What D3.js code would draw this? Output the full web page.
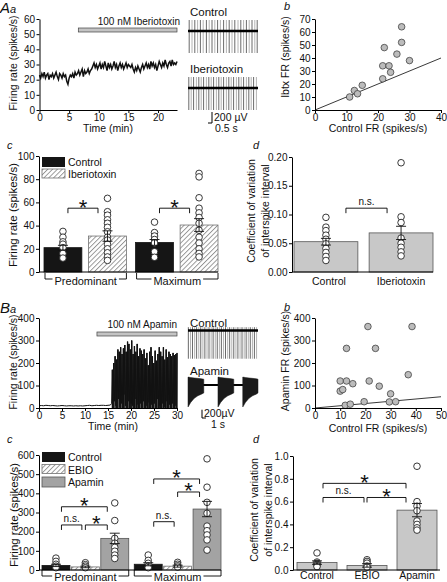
<!DOCTYPE html>
<html><head><meta charset="utf-8">
<script src="https://cdn.jsdelivr.net/npm/d3@7"></script>
<style>
body{margin:0;background:#fff}
svg{display:block;font-family:"Liberation Sans",Arial,Helvetica,sans-serif}
</style></head><body>
<svg id="fig" width="447" height="582"></svg>
<script>
// ================= DATA =================
// --- A a : firing rate time course (Iberiotoxin) ---
const ibtxRateStep = 0.2; // min per sample
const ibtxRate = [23,21,24,22,25,21,23,24,20,23,22,
  24,21,23,25,22,20,24,23,21,24,22,23,
  19,17,21,
  23,22,24,21,25,23,
  24,26,23,25,27,22,26,24,25,27,24,26,
  27,29,31,28,30,27,
  29,31,27,30,28,32,29,26,31,28,30,27,29,32,28,30,26,29,31,28,30,27,29,31,28,30,29,28,30,
  27,25,28,26,29,27,25,28,30,27,
  29,31,28,30,27,32,29,31,28,30,26,29,32,30,28,31,29,33,30,28,31,32,29,33,30,31,30,32];
const ibtxDrugWindow = [6.55, 23.2];
const ibtxTimeTicks = [0,5,10,15,20];
const ibtxRateTicks = [0,10,20,30,40,50,60];
// spike times (s) of the example voltage traces
const ctrlSpikesA = [0.03,0.1,0.17,0.24,0.31,0.38,0.46,0.53,0.6,0.67,0.74,0.81,0.89,0.96,1.03,1.1,1.17,1.25,1.32,1.39,1.46,1.53,1.6,1.67,1.73];
const ibtxSpikesA = [0.02,0.08,0.14,0.21,0.27,0.33,0.39,0.46,0.52,0.58,0.64,0.71,0.77,0.83,0.89,0.96,1.02,1.08,1.14,1.21,1.27,1.33,1.39,1.46,1.52,1.58,1.64,1.71];
const spikeUpA = 200, spikeDownA = -400; // µV

// --- A b : scatter ---
const abControlFR = [11,12.5,13.5,15,21.5,21.5,22,23.5,24,26,27.5,27.5,30];
const abIbtxFR    = [10,15,12.5,19,24,34,48,34,29,43,52,64,38];
const abXTicks = [0,10,20,30,40];
const abYTicks = [0,10,20,30,40,50,60,70];

// --- A c : firing rate bars ---
const acGroups = ['Predominant','Maximum'];
const acConds = ['Control','Iberiotoxin'];
const acMeans = [[21,31],[25.5,40.5]];
const acSEM = [[2,4.5],[2.5,5.5]];
const acPoints = [
  [[35,30,26,24,21,16,12],[63.5,52,49,45,42,38.5,34.7,30,27.6,24,20,16.6,13,10]],
  [[43,34,31,28,25,17.5,12.7],[85,82,64,55,51,47,42,36,30,25,20,16,13]]];
const acTicks = [0,20,40,60,80,100];

// --- A d : CV bars ---
const adConds = ['Control','Iberiotoxin'];
const adMeans = [0.0527,0.068];
const adSEM = [0.0058,0.0115];
const adPoints = [[0.095,0.078,0.072,0.064,0.057,0.049,0.041,0.034,0.027,0.020],
                  [0.19,0.096,0.086,0.059,0.05,0.043,0.035,0.028]];
const adTicks = [0,0.05,0.10,0.15,0.20];

// --- B a : firing rate time course (Apamin) ---
const apaBaseStep = 0.5;
const apaBase = [10,11,10,12,11,10,11,10,9,10,11,10,9,10,10,9,10,9,10,9,10,11,12,10,11,12,11,12,12,11,12,13];
const apaBurstStart = 15.8, apaBurstStep = 0.15;
const apaBurst = [20,170,0,200,30,230,10,215,0,260,40,250,
  5,270,20,240,0,265,60,280,10,250,0,
  295,30,285,0,260,20,300,10,240,0,275,
  40,250,0,285,15,230,0,265,20,255,0,240,
  30,260,0,220,10,245,0,190,25,250,0,270,
  15,230,0,200,20,255,0,210,40,240,0,270,
  10,250,0,230,20,270,5,215,0,260,30,225,
  0,250,15,240,0,230,20,245,0,235,10,240,0,245];
const apaDrugWindow = [12.6, 30];
const apaTimeTicks = [0,5,10,15,20,25,30];
const apaRateTicks = [0,100,200,300,400];
const ctrlSpikesB = [0.02,0.14,0.25,0.37,0.48,0.6,0.71,0.83,0.94,1.06,1.17,1.29,1.4,1.52,1.63,1.75,1.86,1.98,2.09,2.21,2.32,2.44,2.55,2.67,2.78,2.9,3.01,3.13,3.24,3.36,3.47,3.59,3.7,3.82];
const spikeUpB = 80, spikeDownB = -680;
const burstOnsets = [0,1.67,3.05];
const burstEnvT = [0,0.02,0.15,0.35,0.55,0.75,0.88];
const burstEnvTop = [190,190,180,170,160,150,140];
const burstEnvBottom = [-530,-520,-420,-320,-260,-220,-190];

// --- B b : scatter ---
const bbControlFR = [10,10,11,12.5,12.5,12,14,15,19.5,21,21.5,24,25.5,29.5,30,32,37,38.5];
const bbApaminFR  = [75,120,82,120,265,12,17,108,28,362,120,265,97,27,63,28,148,362];
const bbXTicks = [0,10,20,30,40,50];
const bbYTicks = [0,100,200,300,400];

// --- B c : firing rate bars ---
const bcGroups = ['Predominant','Maximum'];
const bcConds = ['Control','EBIO','Apamin'];
const bcMeans = [[24,16,165],[30,20,318]];
const bcSEM = [[6,4,27],[8,5,40]];
const bcPoints = [
  [[62,45,30,20,12],[38,28,20,12],[350,258,165,140,118,98,78,60]],
  [[78,50,35,20,12],[40,30,22,15],[580,432,353,296,229,205,183,157,104]]];
const bcTicks = [0,100,200,300,400,500,600];

// --- B d : CV bars ---
const bdConds = ['Control','EBIO','Apamin'];
const bdMeans = [0.065,0.04,0.525];
const bdSEM = [0.015,0.015,0.058];
const bdPoints = [[0.15,0.07,0.06,0.05,0.04,0.03],[0.09,0.075,0.06,0.035,0.025],[0.91,0.6,0.56,0.52,0.43,0.4,0.37,0.35]];
const bdTicks = [0,0.2,0.4,0.6,0.8,1.0];

// ================= DRAWING =================
const fig = d3.select('#fig');
const FONT = '"Liberation Sans", Arial, Helvetica, sans-serif';
fig.append('rect').attr('width',447).attr('height',582).attr('fill','#fff');

const defs = fig.append('defs');
const pat = defs.append('pattern').attr('id','hatch').attr('width',3.4).attr('height',3.4)
  .attr('patternUnits','userSpaceOnUse').attr('patternTransform','rotate(45)');
pat.append('rect').attr('width',3.4).attr('height',3.4).attr('fill','#fff');
pat.append('line').attr('x1',0.5).attr('y1',0).attr('x2',0.5).attr('y2',3.4).attr('stroke','#808080').attr('stroke-width',0.8);

function txt(x,y,s,o={}){
  const t = fig.append('text').attr('x',x).attr('y',y).text(s)
    .attr('font-size',o.size||10.5).attr('fill',o.fill||'#111')
    .attr('text-anchor',o.anchor||'start').attr('font-family',FONT);
  if(o.italic) t.attr('font-style','italic');
  if(o.rot) t.attr('transform',`rotate(-90,${x},${y})`);
  return t;
}
function panelLabel(x,y,big,small){
  const t = fig.append('text').attr('x',x).attr('y',y).attr('font-family',FONT).attr('font-style','italic').attr('fill','#111');
  if(big) t.append('tspan').attr('font-size',15).text(big);
  if(small) t.append('tspan').attr('font-size',11).text(small);
}
function styleAxis(g){
  g.attr('font-family',FONT).attr('font-size',10);
  g.selectAll('.domain').attr('stroke','#000').attr('stroke-width',1);
  g.selectAll('.tick line').attr('stroke','#000');
  g.selectAll('.tick text').attr('fill','#111');
}
function axL(scale,x,ticks,fmt){
  const g = fig.append('g').attr('transform',`translate(${x},0)`)
    .call(d3.axisLeft(scale).tickValues(ticks).tickSizeInner(3).tickSizeOuter(0).tickPadding(1.5).tickFormat(fmt||d3.format('d')));
  styleAxis(g); return g;
}
function axB(scale,y,ticks,fmt){
  const g = fig.append('g').attr('transform',`translate(0,${y})`)
    .call(d3.axisBottom(scale).tickValues(ticks).tickSizeInner(3).tickSizeOuter(0).tickPadding(0.5).tickFormat(fmt||d3.format('d')));
  styleAxis(g); return g;
}
function hline(x1,x2,y,w){ fig.append('line').attr('x1',x1).attr('x2',x2).attr('y1',y).attr('y2',y).attr('stroke','#000').attr('stroke-width',w||1); }

function groupBracket(x1,x2,y,label,by){
  fig.append('path').attr('d',`M${x1},${y-6}V${y}H${x2}V${y-6}`).attr('fill','none').attr('stroke','#000').attr('stroke-width',0.9);
  const t = txt((x1+x2)/2, by, label, {anchor:'middle', size:11});
  const w = t.node().getComputedTextLength();
  fig.insert('rect', () => t.node()).attr('x',(x1+x2)/2-w/2-2).attr('y',y-3).attr('width',w+4).attr('height',7).attr('fill','#fff');
}
function sigBracket(x1,x2,y,label){
  fig.append('path').attr('d',`M${x1},${y+5}V${y}H${x2}V${y+5}`).attr('fill','none').attr('stroke','#000').attr('stroke-width',0.9);
  if(label==='*') txt((x1+x2)/2, y+6.5, '*', {anchor:'middle', size:22});
  else txt((x1+x2)/2, y-3, label, {anchor:'middle', size:10});
}

function barSet(gScale, groups, cScale, conds, y, means, sems, pts, fills, strokes){
  const w = cScale.bandwidth();
  const centers = [];
  groups.forEach((gn,gi)=>{
    centers.push([]);
    conds.forEach((cn,ci)=>{
      const x = gScale(gn)+cScale(cn);
      const m = means[gi][ci];
      fig.append('rect').attr('x',x).attr('y',y(m)).attr('width',w).attr('height',y(0)-y(m))
        .attr('fill',fills[ci]).attr('stroke',strokes[ci]).attr('stroke-width',0.8);
      centers[gi].push(x+w/2);
    });
  });
  groups.forEach((gn,gi)=>conds.forEach((cn,ci)=>{
    const cx = centers[gi][ci];
    fig.append('g').selectAll('circle').data(pts[gi][ci]).join('circle')
      .attr('cx',cx).attr('cy',d=>y(d)).attr('r',3.3).attr('fill','#fff').attr('stroke','#222').attr('stroke-width',0.9);
  }));
  groups.forEach((gn,gi)=>conds.forEach((cn,ci)=>{
    const cx = centers[gi][ci], m = means[gi][ci], s = sems[gi][ci];
    fig.append('path').attr('d',`M${cx},${y(m-s)}V${y(m+s)}M${cx-5},${y(m+s)}H${cx+5}M${cx-5},${y(m-s)}H${cx+5}`)
      .attr('stroke','#111').attr('stroke-width',0.9).attr('fill','none');
  }));
  return centers;
}

// ---------- A a ----------
panelLabel(0,13,'A','a');
const xAa = d3.scaleLinear([0,23.2],[39.5,177]);
const yAa = d3.scaleLinear([0,60],[110,19]);
fig.append('path').datum(ibtxRate.map((v,i)=>[i*ibtxRateStep,v]))
  .attr('d',d3.line().x(d=>xAa(d[0])).y(d=>yAa(d[1])))
  .attr('fill','none').attr('stroke','#111').attr('stroke-width',1.5);
axL(yAa,39.5,ibtxRateTicks);
axB(xAa,110,ibtxTimeTicks);
txt(17,63,'Firing rate (spikes/s)',{anchor:'middle',rot:true});
txt(108,132,'Time (min)',{anchor:'middle'});
fig.append('rect').attr('x',xAa(ibtxDrugWindow[0])).attr('y',28).attr('width',xAa(ibtxDrugWindow[1])-xAa(ibtxDrugWindow[0])).attr('height',4)
  .attr('fill','#c4c4c4').attr('stroke','#444').attr('stroke-width',0.7);
txt(180,25,'100 nM Iberiotoxin',{anchor:'end',size:10});

// voltage traces A
const tA = d3.scaleLinear([0,1.75],[188,258]);
const uvA = 11/200;
function spikeTrace(spikes, t, cy, up, down, uv, lw){
  fig.append('g').selectAll('line').data(spikes).join('line')
    .attr('x1',d=>t(d)).attr('x2',d=>t(d)).attr('y1',cy-up*uv).attr('y2',cy-down*uv)
    .attr('stroke',(d,i)=>i%2?'#a0a0a0':'#444').attr('stroke-width',0.8);
  hline(t.range()[0],t.range()[1],cy,lw);
}
txt(190,16,'Control',{size:11.5});
spikeTrace(ctrlSpikesA,tA,31,spikeUpA,spikeDownA,uvA,2.4);
txt(190,73,'Iberiotoxin',{size:11.5});
spikeTrace(ibtxSpikesA,tA,88,spikeUpA,spikeDownA,uvA,2.4);
fig.append('path').attr('d',`M212,${123-200*uvA}V123H${tA(0.5)}`).attr('fill','none').attr('stroke','#000').attr('stroke-width',1);
txt(214,121,'200 µV',{size:10.5});
txt(215,132,'0.5 s',{size:10.5});

// ---------- A b ----------
panelLabel(284,10,null,'b');
const xAb = d3.scaleLinear([0,40],[315,441]);
const yAb = d3.scaleLinear([0,70],[110,19]);
fig.append('line').attr('x1',xAb(0)).attr('y1',yAb(0)).attr('x2',xAb(40)).attr('y2',yAb(40)).attr('stroke','#222').attr('stroke-width',0.9);
fig.append('g').selectAll('circle').data(abControlFR).join('circle')
  .attr('cx',d=>xAb(d)).attr('cy',(d,i)=>yAb(abIbtxFR[i])).attr('r',3.3)
  .attr('fill','#bcbcbc').attr('stroke','#444').attr('stroke-width',0.8);
axL(yAb,315,abYTicks);
axB(xAb,110,abXTicks);
txt(289,57,'Ibtx FR (spikes/s)',{anchor:'middle',rot:true});
txt(378,132,'Control FR (spikes/s)',{anchor:'middle'});

// ---------- A c ----------
panelLabel(7,149,null,'c');
const yAc = d3.scaleLinear([0,100],[272,156]);
const gAc = d3.scaleBand(acGroups,[44,218]).paddingInner(0.1);
const cAc = d3.scaleBand(acConds,[0,gAc.bandwidth()]).paddingInner(0.15);
const acCenters = barSet(gAc,acGroups,cAc,acConds,yAc,acMeans,acSEM,acPoints,['#151515','url(#hatch)'],['#151515','#707070']);
axL(yAc,39,acTicks);
hline(39,218,272);
acGroups.forEach(g=>groupBracket(gAc(g)+1,gAc(g)+gAc.bandwidth(),279,g,284.5));
acGroups.forEach((g,gi)=>sigBracket(acCenters[gi][0]+5,acCenters[gi][1]-9.5,yAc(55),'*'));
txt(17,215,'Firing rate (spikes/s)',{anchor:'middle',rot:true,size:11.5});
// legend
fig.append('rect').attr('x',42).attr('y',157).attr('width',23).attr('height',10).attr('fill','#151515');
txt(68,166,'Control',{size:10.5});
fig.append('rect').attr('x',42).attr('y',169).attr('width',23).attr('height',9).attr('fill','url(#hatch)').attr('stroke','#707070').attr('stroke-width',0.8);
txt(68,177.5,'Iberiotoxin',{size:10.5});

// ---------- A d ----------
panelLabel(253,149,null,'d');
const yAd = d3.scaleLinear([0,0.2],[272,157]);
const gAd = d3.scaleBand([''],[294,433]);
const cAd = d3.scaleBand(adConds,[0,139]).paddingInner(0.15);
const adCenters = barSet(gAd,[''],cAd,adConds,yAd,[adMeans],[adSEM],[adPoints],['#c8c8c8','#c8c8c8'],['#555','#555']);
axL(yAd,292,adTicks,d3.format('.2f'));
hline(292,433,272);
adConds.forEach((c,ci)=>txt(adCenters[0][ci]+(ci?0:3),285,c,{anchor:'middle',size:10.5}));
sigBracket(adCenters[0][0]+20,adCenters[0][1]-14,yAd(0.111),'n.s.');
txt(255,211,'Coefficient of variation',{anchor:'middle',rot:true,size:10.5});
txt(269,211,'of interspike interval',{anchor:'middle',rot:true,size:10.5});

// ---------- B a ----------
panelLabel(0,313,'B','a');
const xBa = d3.scaleLinear([0,30],[39,177]);
const yBa = d3.scaleLinear([0,400],[408,318]);
const baBurstPts = apaBurst.map((v,i)=>[Math.min(apaBurstStart+i*apaBurstStep,30),v]);
const baPts = apaBase.map((v,i)=>[i*apaBaseStep,v]).concat(baBurstPts);
// dense burst columns
fig.append('g').selectAll('line').data(baBurstPts.filter(d=>d[1]>100)).join('line')
  .attr('x1',d=>xBa(d[0])).attr('x2',d=>xBa(d[0])).attr('y1',yBa(0)).attr('y2',d=>yBa(d[1]))
  .attr('stroke','#111').attr('stroke-width',1.3);
fig.append('path').datum(baPts)
  .attr('d',d3.line().x(d=>xBa(d[0])).y(d=>yBa(d[1])))
  .attr('fill','none').attr('stroke','#111').attr('stroke-width',1);
axL(yBa,39,apaRateTicks);
axB(xBa,408,apaTimeTicks);
txt(17,362,'Firing rate (spikes/s)',{anchor:'middle',rot:true});
txt(113,430,'Time (min)',{anchor:'middle'});
fig.append('rect').attr('x',xBa(apaDrugWindow[0])).attr('y',332).attr('width',xBa(apaDrugWindow[1])-xBa(apaDrugWindow[0])).attr('height',4)
  .attr('fill','#c4c4c4').attr('stroke','#444').attr('stroke-width',0.7);
txt(177,328,'100 nM Apamin',{anchor:'end',size:10});

// voltage traces B
const tB = d3.scaleLinear([0,3.9],[188,258]);
const uvB = 8.3/200;
txt(190,327,'Control',{size:11.5});
spikeTrace(ctrlSpikesB,tB,330.5,spikeUpB,spikeDownB,uvB,2.6);
txt(190,375,'Apamin',{size:11.5});
hline(188,258,385,2);
const burstArea = d3.area().x(d=>d[0]).y0(d=>d[2]).y1(d=>d[1]);
burstOnsets.forEach(on=>{
  const env = burstEnvT.map((tt,i)=>[tB(Math.min(on+tt,3.9)),385-burstEnvTop[i]*uvB,385-burstEnvBottom[i]*uvB]);
  fig.append('path').datum(env).attr('d',burstArea).attr('fill','#1a1a1a').attr('stroke','#1a1a1a').attr('stroke-width',0.5);
});
fig.append('path').attr('d',`M202,${418-200*uvB}V418H${tB(1)}`).attr('fill','none').attr('stroke','#000').attr('stroke-width',1);
txt(204,417,'200µV',{size:10.5});
txt(211,428,'1 s',{size:10.5});

// ---------- B b ----------
panelLabel(284,311,null,'b');
const xBb = d3.scaleLinear([0,50],[315,441]);
const yBb = d3.scaleLinear([0,400],[408,318]);
fig.append('line').attr('x1',xBb(0)).attr('y1',yBb(0)).attr('x2',xBb(50)).attr('y2',yBb(50)).attr('stroke','#222').attr('stroke-width',0.9);
fig.append('g').selectAll('circle').data(bbControlFR).join('circle')
  .attr('cx',d=>xBb(d)).attr('cy',(d,i)=>yBb(bbApaminFR[i])).attr('r',3.3)
  .attr('fill','#bcbcbc').attr('stroke','#444').attr('stroke-width',0.8);
axL(yBb,315,bbYTicks);
axB(xBb,408,bbXTicks);
txt(289,361,'Apamin FR (spikes/s)',{anchor:'middle',rot:true});
txt(378,432,'Control FR (spikes/s)',{anchor:'middle'});

// ---------- B c ----------
panelLabel(7,443,null,'c');
const yBc = d3.scaleLinear([0,600],[570,455]);
const gBc = d3.scaleBand(bcGroups,[42,221]).paddingInner(0.06);
const cBc = d3.scaleBand(bcConds,[0,gBc.bandwidth()]).paddingInner(0.05);
const bcCenters = barSet(gBc,bcGroups,cBc,bcConds,yBc,bcMeans,bcSEM,bcPoints,['#151515','url(#hatch)','#a3a3a3'],['#151515','#707070','#555']);
axL(yBc,39,bcTicks);
hline(39,221,570);
bcGroups.forEach(g=>groupBracket(gBc(g),gBc(g)+gBc.bandwidth(),576,g,580.5));
const bcBrackets = [
  [0,0,1,235,'n.s.'],[0,1,2,235,'*'],[0,0,2,330,'*'],
  [1,0,1,252,'n.s.'],[1,1,2,407,'*'],[1,0,2,475,'*']];
bcBrackets.forEach(([g,a,b,v,l])=>{
  const x1 = bcCenters[g][a]+(a===0?5.5:0);
  const x2 = bcCenters[g][b]-(b===2?7.5:3.5);
  sigBracket(x1,x2,yBc(v),l);
});
txt(18,515,'Firing rate (spikes/s)',{anchor:'middle',rot:true,size:11.5});
fig.append('rect').attr('x',42).attr('y',452).attr('width',23).attr('height',10).attr('fill','#151515');
txt(68,461,'Control',{size:10.5});
fig.append('rect').attr('x',42).attr('y',464.5).attr('width',23).attr('height',9).attr('fill','url(#hatch)').attr('stroke','#707070').attr('stroke-width',0.8);
txt(68,473.5,'EBIO',{size:10.5});
fig.append('rect').attr('x',42).attr('y',477).attr('width',23).attr('height',10).attr('fill','#a3a3a3').attr('stroke','#555').attr('stroke-width',0.8);
txt(68,486,'Apamin',{size:10.5});

// ---------- B d ----------
panelLabel(253,443,null,'d');
const yBd = d3.scaleLinear([0,1.0],[570,456]);
const gBd = d3.scaleBand([''],[297,437]);
const cBd = d3.scaleBand(bdConds,[0,140]).paddingInner(0.2);
const bdCenters = barSet(gBd,[''],cBd,bdConds,yBd,[bdMeans],[bdSEM],[bdPoints],['#c8c8c8','#c8c8c8','#c8c8c8'],['#555','#555','#555']);
axL(yBd,293,bdTicks,d3.format('.1f'));
hline(293,440,570);
bdConds.forEach((c,ci)=>txt(bdCenters[0][ci],579,c,{anchor:'middle',size:10.5}));
const bdBrackets = [[0,1,0.636,'n.s.'],[1,2,0.636,'*'],[0,2,0.76,'*']];
bdBrackets.forEach(([a,b,v,l])=>{
  const x1 = bdCenters[0][a]+(a===0?6:0);
  const x2 = bdCenters[0][b]-(b===2?11:3);
  sigBracket(x1,x2,yBd(v),l);
});
txt(258,510,'Coefficient of variation',{anchor:'middle',rot:true,size:10.5});
txt(272,510,'of interspike interval',{anchor:'middle',rot:true,size:10.5});
</script>
</body></html>
